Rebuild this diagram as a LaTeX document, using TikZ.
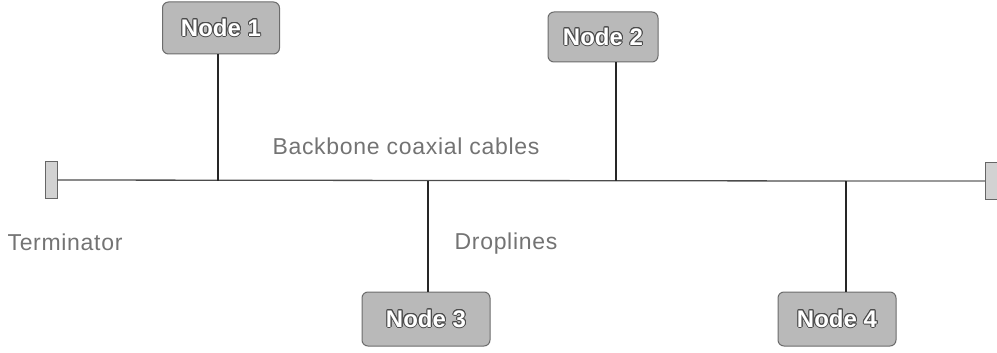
\documentclass[tikz,border=0pt]{standalone}
\usepackage{fontspec}
\setmainfont{Liberation Sans}
\usepackage{contour}
\contourlength{0.9pt}
\begin{document}
\begin{tikzpicture}[x=1pt,y=-1pt,
  station/.style={draw=gray!85!black, fill=gray!55, rounded corners=6pt, line width=1pt,
    inner sep=0pt, font=\fontsize{24}{27}\selectfont\bfseries},
  term/.style={draw=gray!80!black, fill=gray!35, line width=0.8pt, inner sep=0pt,
    minimum width=12pt, minimum height=37pt},
  cable/.style={draw=black!70, line width=1.3pt},
  drop/.style={draw=black!85, line width=1.3pt},
  caption/.style={text=gray!90!black, inner sep=0pt,
    font=\fontsize{23}{26}\selectfont\addfontfeatures{LetterSpace=3}}]
\useasboundingbox (0,0) rectangle (997,353);

% stations on the bus
\node[station, minimum width=117pt, minimum height=52pt] (n1) at (221,28) {\contour{gray!60!black}{\textcolor{white}{Node 1}}};
\node[station, minimum width=110pt, minimum height=50pt] (n2) at (603,37) {\contour{gray!60!black}{\textcolor{white}{Node 2}}};
\node[station, minimum width=128pt, minimum height=54pt] (n3) at (426,319) {\contour{gray!60!black}{\textcolor{white}{Node 3}}};
\node[station, minimum width=118pt, minimum height=54pt] (n4) at (837,319) {\contour{gray!60!black}{\textcolor{white}{Node 4}}};

% terminators at both ends of the backbone
\node[term] (tl) at (51,180) {};
\node[term] (tr) at (991,181) {};

% tap points on the backbone
\coordinate (j1) at (218,181);
\coordinate (j2) at (616,181);
\coordinate (j3) at (428,181);
\coordinate (j4) at (846,181);

% backbone cable
\draw[cable] (tl.east) -- (j4);
\draw[cable, draw=black!40] (j4) -- (tr.west);

% droplines
\draw[drop] (n1.south -| j1) -- (j1);
\draw[drop] (n2.south -| j2) -- (j2);
\draw[drop] (j3) -- (n3.north -| j3);
\draw[drop] (j4) -- (n4.north -| j4);

% labels
\node[caption] (lbb) at (406,146) {Backbone coaxial cables};
\node[caption] (lterm) at (65,242) {Terminator};
\node[caption] (ldrop) at (506,244) {Droplines};
\end{tikzpicture}
\end{document}
